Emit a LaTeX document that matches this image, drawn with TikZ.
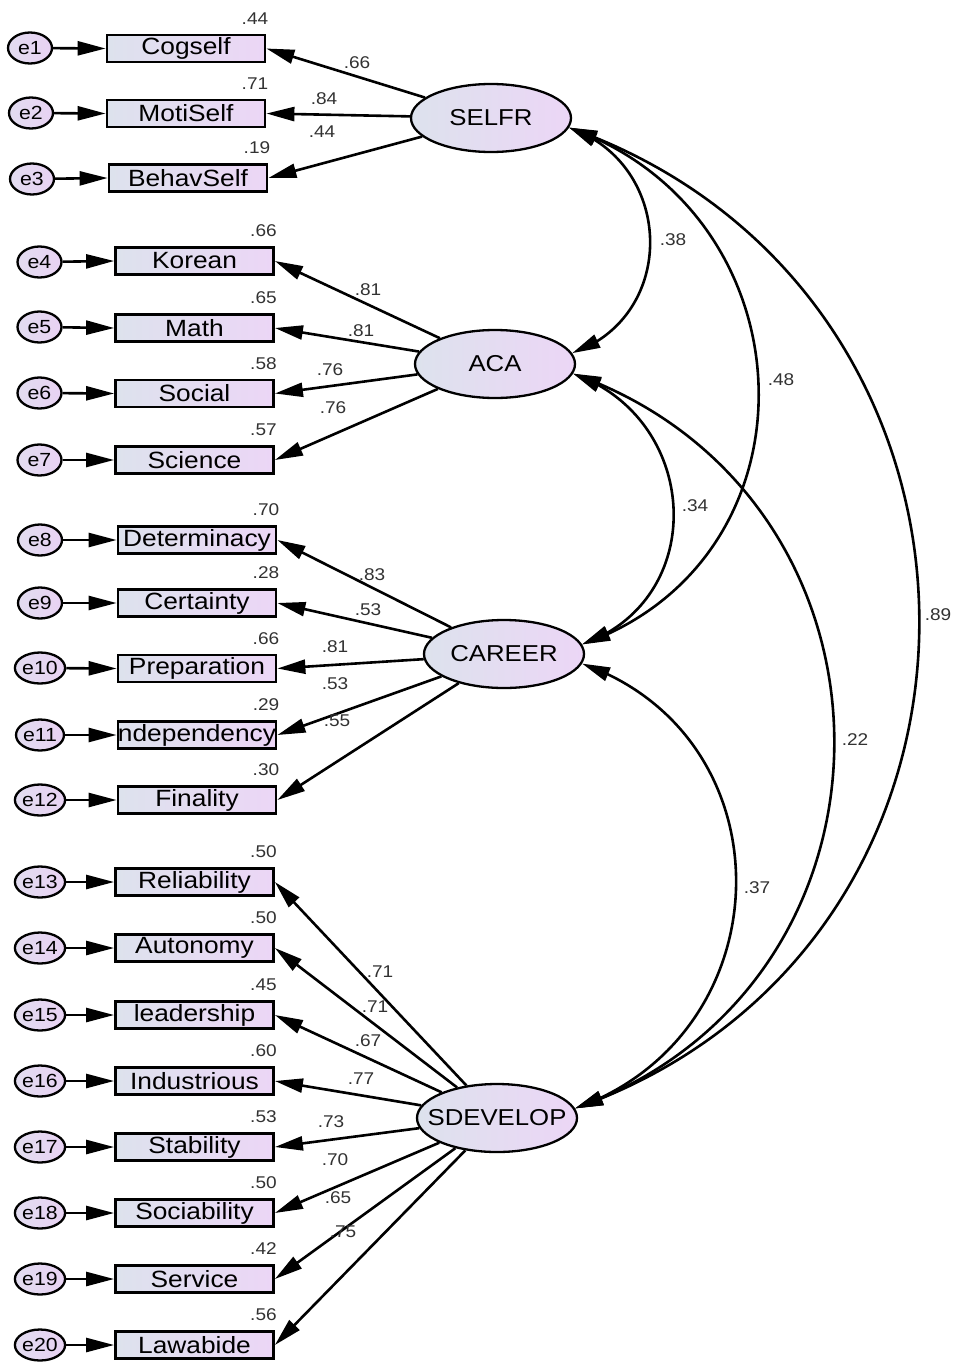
\documentclass[tikz,border=0pt]{standalone}
\usepackage{fontspec}
\setmainfont{Liberation Sans}[FakeStretch=1.12]
\usetikzlibrary{arrows.meta,bending,shapes.geometric}
\definecolor{fillL}{RGB}{221,226,237}
\definecolor{fillR}{RGB}{236,214,246}
\definecolor{errL}{RGB}{226,220,240}
\definecolor{errR}{RGB}{232,210,243}
\definecolor{numcol}{RGB}{50,50,50}
\begin{document}
\begin{tikzpicture}[x=1pt,y=-1pt,
  obs/.style={rectangle, draw, line width=2.8pt, minimum width=158pt, minimum height=27pt,
    inner sep=0pt, left color=fillL, right color=fillR, font=\fontsize{23.5}{24}\selectfont},
  lat/.style={ellipse, draw, line width=2.3pt, minimum width=160pt, minimum height=68pt,
    inner ysep=0pt, inner xsep=-14pt, left color=fillL, right color=fillR,
    font=\fontsize{23}{24}\selectfont},
  err/.style={ellipse, draw, line width=2.3pt, minimum width=44pt, minimum height=31pt,
    inner sep=0pt, left color=errL, right color=errR, font=\fontsize{19}{20}\selectfont},
  num/.style={inner sep=0pt, text=numcol, font=\fontsize{17}{18}\selectfont},
  rsq/.style={num, anchor=south east},
  path/.style={line width=2.6pt, -{Triangle[length=28pt,width=14pt]}},
  cov/.style={line width=2.6pt, {Triangle[length=28pt,width=14pt]}-{Triangle[length=28pt,width=14pt]}}
]
\useasboundingbox (0,0) rectangle (955,1365);

% latent factors
\node[lat] (SELFR) at (491,118) {SELFR};
\node[lat] (ACA) at (495,364) {ACA};
\node[lat] (CAREER) at (504,654) {CAREER};
\node[lat] (SDEVELOP) at (497,1118) {SDEVELOP};

% SELFR indicators
\node[obs] (Cogself) at (186,48.5) {Cogself};
\node[obs] (MotiSelf) at (186,113.5) {MotiSelf};
\node[obs] (BehavSelf) at (188,178) {BehavSelf};
\node[err] (e1) at (30,48) {e1};
\node[err] (e2) at (31,113) {e2};
\node[err] (e3) at (32,179) {e3};

% ACA indicators
\node[obs] (Korean) at (194.5,261) {Korean};
\node[obs] (Math) at (194.5,328) {Math};
\node[obs] (Social) at (194.5,393.5) {Social};
\node[obs] (Science) at (194.5,460) {Science};
\node[err] (e4) at (39.5,262) {e4};
\node[err] (e5) at (39.5,327) {e5};
\node[err] (e6) at (39.5,393) {e6};
\node[err] (e7) at (39.5,460) {e7};

% CAREER indicators
\node[obs] (Determinacy) at (197,540) {Determinacy};
\node[obs] (Certainty) at (197,603) {Certainty};
\node[obs] (Preparation) at (197,668.5) {Preparation};
\node[obs] (Independency) at (197,735) {ndependency};
\node[obs] (Finality) at (197,800) {Finality};
\node[err] (e8) at (40,540) {e8};
\node[err] (e9) at (40,603) {e9};
\node[err] (e10) at (40,668) {e10};
\node[err] (e11) at (40,735) {e11};
\node[err] (e12) at (40,800) {e12};

% SDEVELOP indicators
\node[obs] (Reliability) at (194.5,882) {Reliability};
\node[obs] (Autonomy) at (194.5,948) {Autonomy};
\node[obs] (leadership) at (194.5,1015) {leadership};
\node[obs] (Industrious) at (194.5,1081) {Industrious};
\node[obs] (Stability) at (194.5,1147) {Stability};
\node[obs] (Sociability) at (194.5,1213) {Sociability};
\node[obs] (Service) at (194.5,1279) {Service};
\node[obs] (Lawabide) at (194.5,1345) {Lawabide};
\node[err] (e13) at (40,882) {e13};
\node[err] (e14) at (40,948) {e14};
\node[err] (e15) at (40,1015) {e15};
\node[err] (e16) at (40,1081) {e16};
\node[err] (e17) at (40,1147) {e17};
\node[err] (e18) at (40,1213) {e18};
\node[err] (e19) at (40,1279) {e19};
\node[err] (e20) at (40,1345) {e20};

% error terms into indicators
\foreach \e/\o in {e1/Cogself,e2/MotiSelf,e3/BehavSelf,e4/Korean,e5/Math,e6/Social,e7/Science,
  e8/Determinacy,e9/Certainty,e10/Preparation,e11/Independency,e12/Finality,
  e13/Reliability,e14/Autonomy,e15/leadership,e16/Industrious,e17/Stability,
  e18/Sociability,e19/Service,e20/Lawabide}
  \draw[path] (\e) -- (\o.west);

% factor loadings
\foreach \f/\o in {SELFR/Cogself,SELFR/MotiSelf,SELFR/BehavSelf,
  ACA/Korean,ACA/Math,ACA/Social,ACA/Science,
  CAREER/Determinacy,CAREER/Certainty,CAREER/Preparation,CAREER/Independency,CAREER/Finality,
  SDEVELOP/Reliability,SDEVELOP/Autonomy,SDEVELOP/leadership,SDEVELOP/Industrious,
  SDEVELOP/Stability,SDEVELOP/Sociability,SDEVELOP/Service,SDEVELOP/Lawabide}
  \draw[path] (\f) -- (\o.east);

% squared multiple correlations
\foreach \o/\v/\n in {Cogself/.44/r1,MotiSelf/.71/r2,BehavSelf/.19/r3,
  Korean/.66/r4,Math/.65/r5,Social/.58/r6,Science/.57/r7,
  Determinacy/.70/r8,Certainty/.28/r9,Preparation/.66/r10,Independency/.29/r11,Finality/.30/r12,
  Reliability/.50/r13,Autonomy/.50/r14,leadership/.45/r15,Industrious/.60/r16,
  Stability/.53/r17,Sociability/.50/r18,Service/.42/r19,Lawabide/.56/r20}
  \node[rsq] (\n) at ([xshift=2pt,yshift=9pt]\o.north east) {\v};

% loading values
\node[num] (l1) at (357,63) {.66};
\node[num] (l2) at (324,99) {.84};
\node[num] (l3) at (322,132) {.44};
\node[num] (l4) at (368,290) {.81};
\node[num] (l5) at (361,331) {.81};
\node[num] (l6) at (330,370) {.76};
\node[num] (l7) at (333,408) {.76};
\node[num] (l8) at (372,575) {.83};
\node[num] (l9) at (368,610) {.53};
\node[num] (l10) at (335,647) {.81};
\node[num] (l11) at (335,684) {.53};
\node[num] (l12) at (337,721) {.55};
\node[num] (l13) at (380,972) {.71};
\node[num] (l14) at (375,1007) {.71};
\node[num] (l15) at (368,1041) {.67};
\node[num] (l16) at (361,1079) {.77};
\node[num] (l17) at (331,1122) {.73};
\node[num] (l18) at (335,1160) {.70};
\node[num] (l19) at (338,1198) {.65};
\node[num] (l20) at (343,1232) {.75};

% factor covariances
\draw[cov] (SELFR.-7) .. controls +(106,37) and +(106,-37) .. (ACA.8);
\draw[cov] (SELFR.-7) .. controls +(244,86) and +(244,-86) .. (CAREER.7);
\draw[cov] (SELFR.-7) .. controls +(463,164) and +(463,-164) .. (SDEVELOP.7);
\draw[cov] (ACA.-7) .. controls +(128,45) and +(128,-45) .. (CAREER.7);
\draw[cov] (ACA.-7) .. controls +(347,123) and +(347,-123) .. (SDEVELOP.7);
\draw[cov] (CAREER.-7) .. controls +(210,74) and +(210,-74) .. (SDEVELOP.7);

\node[num] (c1) at (673,240) {.38};
\node[num] (c2) at (781,380) {.48};
\node[num] (c3) at (938,615) {.89};
\node[num] (c4) at (695,506) {.34};
\node[num] (c5) at (855,740) {.22};
\node[num] (c6) at (757,888) {.37};
\end{tikzpicture}
\end{document}
